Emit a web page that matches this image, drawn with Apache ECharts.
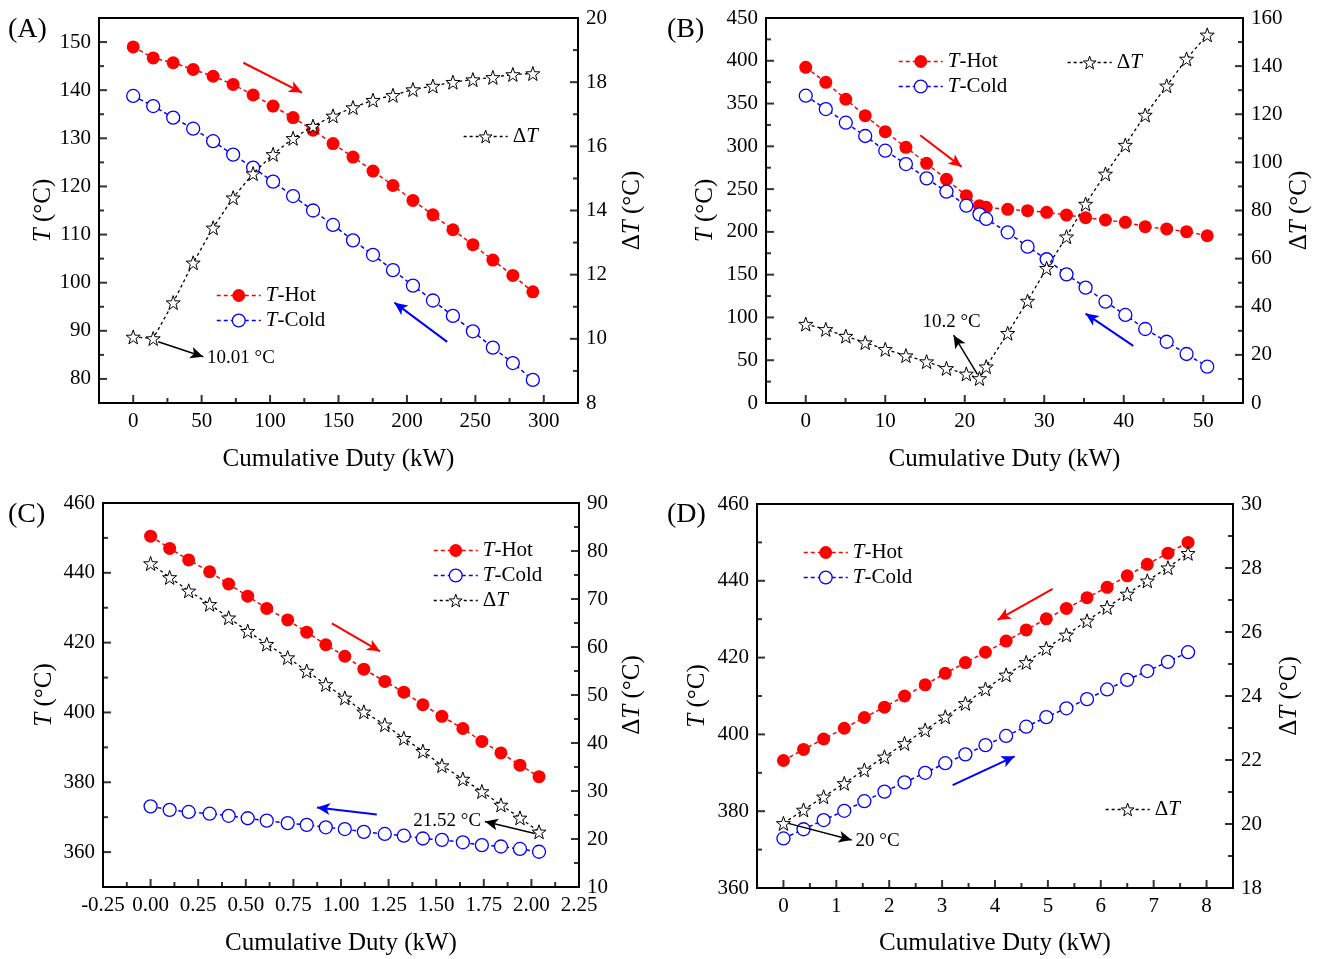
<!DOCTYPE html>
<html>
<head>
<meta charset="utf-8">
<script src="https://cdn.jsdelivr.net/npm/echarts@6/dist/echarts.min.js"></script>
<style>
  html, body { margin: 0; padding: 0; background: #fff; }
  #main { width: 1338px; height: 959px; }
</style>
</head>
<body>
<div id="main"></div>
<script>
// ---- (A) ----
const dutyA = [0, 14.6, 29.2, 43.8, 58.4, 73.0, 87.6, 102.2, 116.8, 131.4, 146.0, 160.6, 175.2, 189.8, 204.4, 219.0, 233.6, 248.2, 262.8, 277.4, 292.0];
const hotA = [149.0, 146.7, 145.7, 144.3, 142.9, 141.2, 139.0, 136.7, 134.3, 131.7, 128.9, 126.1, 123.2, 120.2, 117.1, 114.1, 111.0, 107.9, 104.7, 101.5, 98.1];
const coldA = [138.8, 136.7, 134.3, 132.0, 129.4, 126.6, 123.9, 121.0, 118.0, 115.0, 112.0, 108.8, 105.8, 102.6, 99.4, 96.3, 93.1, 89.9, 86.5, 83.3, 79.8];
const dtA = [10.06, 10.01, 11.13, 12.37, 13.46, 14.40, 15.15, 15.75, 16.25, 16.63, 16.95, 17.21, 17.44, 17.59, 17.77, 17.88, 18.00, 18.08, 18.15, 18.24, 18.27];

// ---- (B) ----
const dutyB = [0, 2.52, 5.04, 7.48, 10.0, 12.6, 15.2, 17.7, 20.2, 21.85, 22.7, 25.4, 27.9, 30.3, 32.8, 35.2, 37.7, 40.2, 42.7, 45.4, 47.9, 50.5];
const hotB = [392.4, 374.8, 355.0, 335.8, 317.1, 298.8, 280.1, 261.4, 242.3, 230.6, 228.7, 226.4, 224.8, 222.9, 219.7, 216.6, 213.9, 211.2, 206.1, 203.4, 200.2, 195.5];
const coldB = [359.2, 343.6, 327.6, 312.1, 294.9, 279.3, 262.6, 247.0, 230.6, 220.5, 215.1, 199.5, 182.7, 168.0, 150.4, 134.8, 118.4, 102.9, 86.5, 71.6, 57.3, 42.4];
const dtB = [32.8, 30.6, 27.8, 25.1, 22.3, 19.7, 17.2, 14.4, 12.1, 10.2, 15.1, 29.0, 42.4, 56.0, 69.1, 82.7, 95.2, 107.2, 119.7, 131.8, 143.0, 153.0];

// ---- (C) ----
const dutyC = [0, 0.10, 0.20, 0.31, 0.41, 0.51, 0.61, 0.72, 0.82, 0.92, 1.02, 1.12, 1.23, 1.33, 1.43, 1.53, 1.64, 1.74, 1.84, 1.94, 2.04];
const hotC = [450.5, 447.0, 443.7, 440.3, 436.8, 433.3, 429.8, 426.5, 423.0, 419.4, 416.1, 412.4, 408.9, 405.8, 402.2, 398.9, 395.4, 391.7, 388.4, 384.9, 381.6];
const coldC = [373.1, 372.1, 371.5, 371.0, 370.4, 369.7, 369.0, 368.3, 367.8, 367.1, 366.6, 365.8, 365.2, 364.7, 363.9, 363.5, 362.8, 362.0, 361.6, 360.9, 360.1];
const dtC = [77.4, 74.5, 71.7, 68.9, 66.1, 63.3, 60.6, 57.8, 55.0, 52.2, 49.4, 46.5, 43.8, 41.0, 38.3, 35.3, 32.5, 29.9, 27.1, 24.4, 21.5];

// ---- (D) ----
const dutyD = [0, 0.38, 0.76, 1.15, 1.53, 1.91, 2.29, 2.68, 3.06, 3.44, 3.82, 4.21, 4.59, 4.97, 5.35, 5.74, 6.12, 6.50, 6.88, 7.27, 7.65];
const hotD = [393.2, 396.1, 398.8, 401.6, 404.4, 407.1, 410.0, 412.9, 415.9, 418.7, 421.4, 424.3, 427.2, 430.1, 432.8, 435.6, 438.3, 441.3, 444.3, 447.2, 450.0];
const coldD = [372.9, 375.3, 377.7, 380.1, 382.6, 385.1, 387.5, 390.0, 392.5, 394.8, 397.2, 399.6, 402.0, 404.5, 406.8, 409.2, 411.7, 414.2, 416.5, 418.9, 421.4];
const dtD = [20.02, 20.44, 20.85, 21.27, 21.69, 22.10, 22.52, 22.94, 23.35, 23.77, 24.22, 24.66, 25.05, 25.49, 25.91, 26.35, 26.77, 27.19, 27.60, 28.01, 28.46];

// labelled (major) tick values per axis
const xTicksA = [0, 50, 100, 150, 200, 250, 300];
const tTicksA = [80, 90, 100, 110, 120, 130, 140, 150];
const dTicksA = [8, 10, 12, 14, 16, 18, 20];
const xTicksB = [0, 10, 20, 30, 40, 50];
const tTicksB = [0, 50, 100, 150, 200, 250, 300, 350, 400, 450];
const dTicksB = [0, 20, 40, 60, 80, 100, 120, 140, 160];
const xTicksC = [-0.25, 0, 0.25, 0.5, 0.75, 1, 1.25, 1.5, 1.75, 2, 2.25];
const tTicksC = [360, 380, 400, 420, 440, 460];
const dTicksC = [10, 20, 30, 40, 50, 60, 70, 80, 90];
const xTicksD = [0, 1, 2, 3, 4, 5, 6, 7, 8];
const tTicksD = [360, 380, 400, 420, 440, 460];
const dTicksD = [18, 20, 22, 24, 26, 28, 30];

const FONT = 'Liberation Serif';
const RED = '#ff0000', BLUE = '#0000ff', BLACK = '#000';
const STAR = 'path://M50,0 L61.76,33.82 L97.55,34.55 L69.02,56.18 L79.39,90.45 L50,70 L20.61,90.45 L30.98,56.18 L2.45,34.55 L38.24,33.82 Z';
const italic = { i: { fontStyle: 'italic', fontFamily: FONT, fontSize: 25, color: '#000' } };

const grids = [
  { left: 99, top: 18, width: 479, height: 385 },
  { left: 766, top: 18, width: 477, height: 385 },
  { left: 103, top: 503, width: 476, height: 384 },
  { left: 757, top: 504, width: 476, height: 384 }
];

const xName = 'Cumulative Duty (kW)', tName = '{i|T} (°C)', dName = 'Δ{i|T} (°C)';
// [grid, position, min, max, minor step, labelled ticks, name, nameGap, formatter]
const xDefs = [
  [0, 'bottom', -25, 325, 25, xTicksA, xName, 44],
  [1, 'bottom', -5, 55, 5, xTicksB, xName, 44],
  [2, 'bottom', -0.25, 2.25, 0.125, xTicksC, xName, 44, v => v.toFixed(2)],
  [3, 'bottom', -0.5, 8.5, 0.5, xTicksD, xName, 43]
];
const yDefs = [
  [0, 'left', 75, 155, 5, tTicksA, tName, 43], [0, 'right', 8, 20, 1, dTicksA, dName, 42],
  [1, 'left', 0, 450, 25, tTicksB, tName, 48], [1, 'right', 0, 160, 10, dTicksB, dName, 44],
  [2, 'left', 350, 460, 10, tTicksC, tName, 46], [2, 'right', 10, 90, 5, dTicksC, dName, 41],
  [3, 'left', 360, 460, 10, tTicksD, tName, 47], [3, 'right', 18, 30, 1, dTicksD, dName, 44]
];

const isIn = (list, v) => list.some(m => Math.abs(m - v) < 1e-6);

function axis(g, pos, min, max, step, major, name, gap, fmt) {
  const line = { color: '#000', width: 2 };
  return {
    type: 'value', gridIndex: g, position: pos, min: min, max: max, interval: step,
    axisLine: { show: true, onZero: false, lineStyle: line },
    axisTick: { show: false },
    axisLabel: {
      formatter: v => isIn(major, v) ? (fmt ? fmt(v) : String(Math.round(v * 1000) / 1000)) : '',
      color: '#000', fontFamily: FONT, fontSize: 21, margin: 8
    },
    splitLine: { show: false },
    name: name, nameLocation: 'middle', nameGap: gap,
    nameRotate: pos === 'bottom' ? 0 : 90,
    nameTextStyle: { fontFamily: FONT, fontSize: 25, color: '#000', rich: italic }
  };
}
const xAxes = xDefs.map(d => axis(...d));
const yAxes = yDefs.map(d => axis(...d));

// inward tick marks, placed through the axes' own scales
function tickSeries(p) {
  const out = [];
  const xd = xDefs[p], yl = yDefs[2 * p], yr = yDefs[2 * p + 1];
  function vals(d) {
    const r = [];
    for (let v = d[2]; v <= d[3] + 1e-9; v += d[4]) r.push(Math.round(v * 1e6) / 1e6);
    return r;
  }
  function add(d, yi, toPoint, sizeFn, offFn) {
    [true, false].forEach(maj => {
      const len = maj ? 8 : 5;
      out.push({
        type: 'scatter', xAxisIndex: p, yAxisIndex: yi, silent: true, clip: false, z: 10,
        symbol: 'rect', symbolSize: sizeFn(len), symbolOffset: offFn(len),
        itemStyle: { color: '#000' },
        data: vals(d).filter(v => isIn(d[5], v) === maj).map(toPoint)
      });
    });
  }
  add(xd, 2 * p, v => [v, yl[2]], l => [2, l], l => [0, -l / 2]);
  add(yl, 2 * p, v => [xd[2], v], l => [l, 2], l => [l / 2, 0]);
  add(yr, 2 * p + 1, v => [xd[3], v], l => [l, 2], l => [-l / 2, 0]);
  return out;
}

function zip(xs, ys) { return xs.map((x, i) => [x, ys[i]]); }

function arrow(from, to, color, text) {
  return [{
    coord: from,
    lineStyle: { color: color, width: color === BLACK ? 1.5 : 2, type: 'solid' },
    label: text ? { show: true, position: 'end', formatter: text, fontFamily: FONT, fontSize: 19, color: '#000', distance: 4 } : { show: false }
  }, { coord: to }];
}
function marks(list) {
  return { silent: true, animation: false, symbol: ['none', 'arrow'], symbolSize: [9, 13], data: list };
}

const hotItem = { color: RED };
const coldItem = { color: '#fff', borderColor: BLUE, borderWidth: 1.3 };
const starItem = { color: '#fff', borderColor: BLACK, borderWidth: 1 };

function panel(p, duty, hot, cold, dt, hotArrows, coldArrows, dtArrows) {
  const yl = 2 * p, yr = 2 * p + 1;
  return [{
    name: 'T-Hot', type: 'line', xAxisIndex: p, yAxisIndex: yl, data: zip(duty, hot),
    symbol: 'circle', symbolSize: 13, z: 3,
    itemStyle: hotItem,
    lineStyle: { color: RED, width: 1.5, type: [4, 3] },
    markLine: marks(hotArrows)
  }, {
    name: 'T-Cold', type: 'line', xAxisIndex: p, yAxisIndex: yl, data: zip(duty, cold),
    symbol: 'circle', symbolSize: 13, z: 3,
    itemStyle: coldItem,
    lineStyle: { color: BLUE, width: 1.5, type: [4, 3] },
    markLine: marks(coldArrows)
  }, {
    name: 'ΔT', type: 'line', xAxisIndex: p, yAxisIndex: yr, data: zip(duty, dt),
    symbol: STAR, symbolSize: 14, z: 4,
    itemStyle: starItem,
    lineStyle: { color: BLACK, width: 1.3, type: [3, 3] },
    markLine: marks(dtArrows)
  }].concat(tickSeries(p));
}

const series = [].concat(
  panel(0, dutyA, hotA, coldA, dtA,
    [arrow([80.5, 145.7], [123.3, 139.5], RED)],
    [arrow([229.4, 87.7], [190.9, 95.85], BLUE)],
    [arrow([18.3, 9.91], [51.2, 9.44], BLACK, '10.01 °C')]),
  panel(1, dutyB, hotB, coldB, dtB,
    [arrow([14.4, 313], [19.6, 276], RED)],
    [arrow([41.2, 66.7], [35.2, 104.5], BLUE)],
    [arrow([21.6, 11.9], [18.6, 28.2], BLACK, '10.2 °C')]),
  panel(2, dutyC, hotC, coldC, dtC,
    [arrow([0.952, 425.5], [1.205, 417.5], RED)],
    [arrow([1.188, 370.75], [0.874, 372.8], BLUE)],
    [arrow([2.018, 21.13], [1.756, 23.65], BLACK, '21.52 °C')]),
  panel(3, dutyD, hotD, coldD, dtD,
    [arrow([5.09, 437.9], [4.05, 429.8], RED)],
    [arrow([3.20, 386.8], [4.37, 394.3], BLUE)],
    [arrow([0.094, 20.02], [1.29, 19.5], BLACK, '20 °C')])
);

const legendStyles = {
  'T-Hot': { itemStyle: hotItem, lineStyle: { color: RED, width: 1.5, type: [4, 3] } },
  'T-Cold': { itemStyle: coldItem, lineStyle: { color: BLUE, width: 1.5, type: [4, 3] } },
  'ΔT': { itemStyle: starItem, lineStyle: { color: BLACK, width: 1.3, type: [3, 3] } }
};
function legend(names, left, top) {
  return {
    data: names.map(n => Object.assign({ name: n }, legendStyles[n])),
    left: left, top: top, orient: 'vertical', selectedMode: false, padding: 0,
    itemWidth: 44, itemHeight: 16, itemGap: 4,
    formatter: n => n === 'ΔT' ? 'Δ{i|T}' : '{i|T}' + n.slice(1),
    textStyle: { fontFamily: FONT, fontSize: 21, color: '#000',
      rich: { i: { fontStyle: 'italic', fontFamily: FONT, fontSize: 21, color: '#000' } } }
  };
}

function tag(text, left, top) {
  return { type: 'text', left: left, top: top,
    style: { text: text, fontFamily: FONT, fontSize: 28, fill: '#000' } };
}

const option = {
  animation: false,
  backgroundColor: '#fff',
  grid: grids.map(g => Object.assign({ show: true, borderColor: '#000', borderWidth: 2, containLabel: false }, g)),
  xAxis: xAxes,
  yAxis: yAxes,
  legend: [
    legend(['T-Hot', 'T-Cold'], 216, 285),
    legend(['ΔT'], 463, 126),
    legend(['T-Hot', 'T-Cold'], 898, 51),
    legend(['ΔT'], 1067, 52),
    legend(['T-Hot', 'T-Cold', 'ΔT'], 433, 540),
    legend(['T-Hot', 'T-Cold'], 803, 542),
    legend(['ΔT'], 1105, 799)
  ],
  graphic: [
    tag('(A)', 8, 16),
    tag('(B)', 667, 16),
    tag('(C)', 8, 501),
    tag('(D)', 667, 501)
  ],
  series: series
};

const chart = echarts.init(document.getElementById('main'));
chart.setOption(option);
</script>
</body>
</html>
